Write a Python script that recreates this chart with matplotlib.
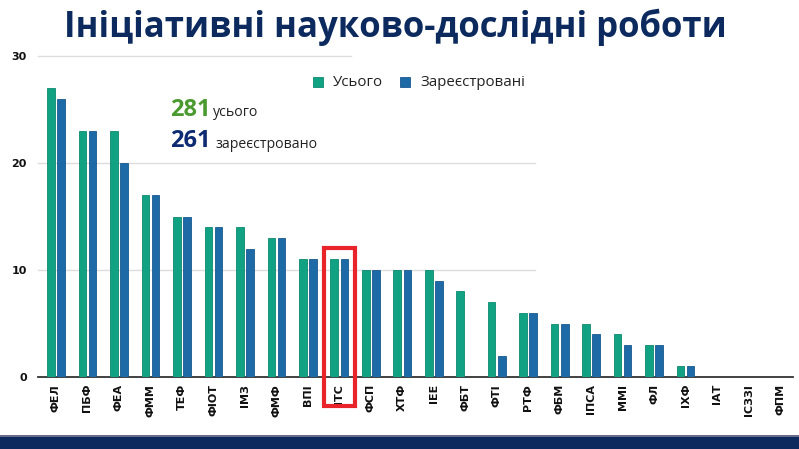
import matplotlib
matplotlib.use("Agg")
import matplotlib.pyplot as plt
from matplotlib.patches import Rectangle
import numpy as np

categories = ["ФЕЛ", "ПБФ", "ФЕА", "ФММ", "ТЕФ", "ФІОТ", "ІМЗ", "ФМФ", "ВПІ", "ІТС",
              "ФСП", "ХТФ", "ІЕЕ", "ФБТ", "ФТІ", "РТФ", "ФБМ", "ІПСА", "ММІ", "ФЛ",
              "ІХФ", "ІАТ", "ІСЗЗІ", "ФПМ"]
total = [27, 23, 23, 17, 15, 14, 14, 13, 11, 11, 10, 10, 10, 8, 7, 6, 5, 5, 4, 3, 1, 0, 0, 0]
registered = [26, 23, 20, 17, 15, 14, 12, 13, 11, 11, 10, 10, 9, 0, 2, 6, 5, 4, 3, 3, 1, 0, 0, 0]
series_names = ["Усього", "Зареєстровані"]
yticks = [0, 10, 20, 30]
title = "Ініціативні науково-дослідні роботи"
sum_total_label = "281"
sum_reg_label = "261"
highlight = "ІТС"

GREEN = "#10a283"
BLUE = "#1e6aa6"
NAVY = "#0c2a5e"

W, H = 799, 449
fig = plt.figure(figsize=(W / 100, H / 100), dpi=100)
fig.patch.set_facecolor("white")

ax = fig.add_axes([38 / W, 1 - 377 / H, (793 - 38) / W, (377 - 56) / H])
x = np.arange(len(categories))
bw = 0.24
off = 0.16
ax.bar(x - off, total, width=bw, color=GREEN, edgecolor="#0d8a6e", linewidth=0.6, zorder=3)
ax.bar(x + off, registered, width=bw, color=BLUE, edgecolor="#185a8e", linewidth=0.6, zorder=3)

ax.set_xlim(-0.57, len(categories) - 1 + 0.41)
ax.set_ylim(0, 30)

# gridlines (partial, as in reference)
for yv, xm in [(10, 0.658), (20, 0.658), (30, 0.415)]:
    ax.axhline(yv, xmin=0, xmax=xm, color="#dddddd", linewidth=1.0, zorder=1, clip_on=False)

for s in ["top", "right", "left"]:
    ax.spines[s].set_visible(False)
ax.spines["bottom"].set_color("#333333")
ax.spines["bottom"].set_linewidth(1.3)
ax.spines["bottom"].set_zorder(2)

ax.set_yticks(yticks)
ax.set_yticklabels([str(v) for v in yticks], fontsize=8, fontweight="bold",
                   family="DejaVu Sans", color="#111111")
ax.tick_params(axis="y", length=0, pad=8)
ax.set_xticks(x)
ax.set_xticklabels(categories, rotation=90, fontsize=8, fontweight="bold",
                   family="DejaVu Sans", color="#111111")
ax.tick_params(axis="x", length=0, pad=5)

# highlight rectangle (below tick labels, above axis line)
hi = categories.index(highlight)
rect = Rectangle((hi - 0.5, -2.75), 1.0, 14.83, fill=False, edgecolor="#e8232a",
                 linewidth=3, clip_on=False, zorder=2.2)
ax.add_patch(rect)

# legend
for i, (name, col) in enumerate(zip(series_names, [GREEN, BLUE])):
    px = [318, 405][i]
    fig.patches.append(Rectangle((px / W - 5 / W, 1 - 87 / H), 10 / W, 10 / H,
                                 transform=fig.transFigure, facecolor=col,
                                 edgecolor="#0d8a6e" if i == 0 else "#185a8e",
                                 linewidth=0.6, figure=fig))
    fig.text((px + 15) / W, 1 - 82 / H, name, fontsize=10.8, family="Open Sans",
             va="center", ha="left", color="#222222")

# summary annotation
fig.text(170 / W, 1 - 110 / H, sum_total_label, fontsize=17, fontweight="bold",
         family="Open Sans", color="#4a9a30", va="center", ha="left")
fig.text(213 / W, 1 - 113 / H, "усього", fontsize=10.2, family="Open Sans",
         color="#222222", va="center", ha="left")
fig.text(170 / W, 1 - 141 / H, sum_reg_label, fontsize=17, fontweight="bold",
         family="Open Sans", color="#0d2a72", va="center", ha="left")
fig.text(216 / W, 1 - 144 / H, "зареєстровано", fontsize=10.2, family="Open Sans",
         color="#222222", va="center", ha="left")

# title
fig.text(395 / W, 1 - 27 / H, title, fontsize=25, fontweight="bold",
         family="Open Sans", color=NAVY, ha="center", va="center")

# bottom band
fig.patches.append(Rectangle((0, 0), 1, 13 / H, transform=fig.transFigure,
                             facecolor=NAVY, edgecolor="none", figure=fig))
fig.patches.append(Rectangle((0, 12.5 / H), 1, 1.2 / H, transform=fig.transFigure,
                             facecolor="#6a6a8a", edgecolor="none", figure=fig))

fig.savefig("out.png", dpi=100, facecolor="white")
